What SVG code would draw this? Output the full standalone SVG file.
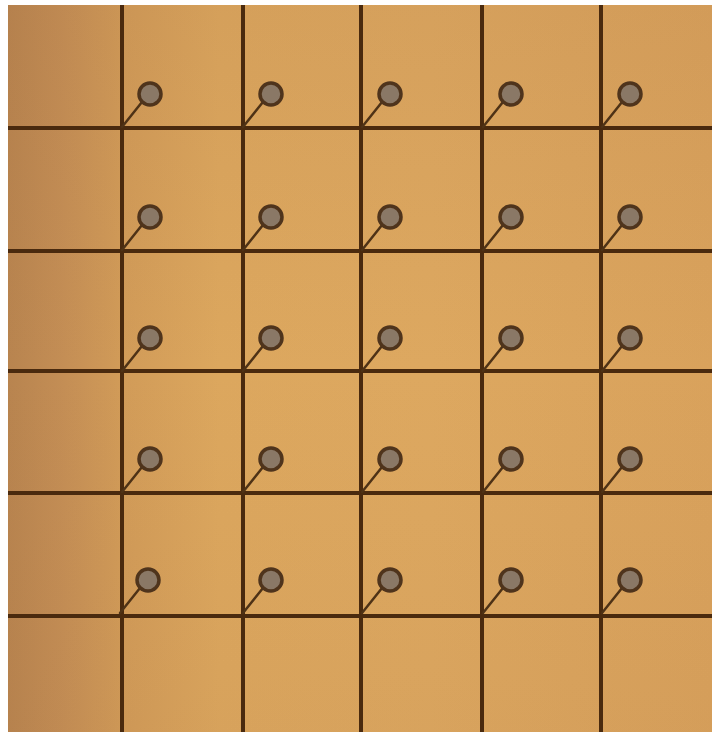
<svg xmlns="http://www.w3.org/2000/svg" xmlns:xlink="http://www.w3.org/1999/xlink" width="712" height="732" viewBox="0 0 712 732">
<style>
.grid line{stroke:#4a2a0e;stroke-width:4;stroke-linecap:butt}
.stem{stroke:#4e3216;stroke-width:2.5;stroke-linecap:round}
.head{fill:#8a7866;stroke:#4f341c;stroke-width:3.5}
</style>
<defs>
<linearGradient id="bg" x1="0" y1="0" x2="1" y2="0">
<stop offset="0" stop-color="#b8844f"/>
<stop offset="0.08" stop-color="#c48e55"/>
<stop offset="0.16" stop-color="#d19b58"/>
<stop offset="0.3" stop-color="#dca75e"/>
<stop offset="0.6" stop-color="#dda860"/>
<stop offset="1" stop-color="#d9a25c"/>
</linearGradient>
<linearGradient id="vshade" x1="0" y1="0" x2="0" y2="1">
<stop offset="0" stop-color="#a06a40" stop-opacity="0.12"/>
<stop offset="0.5" stop-color="#a06a40" stop-opacity="0"/>
<stop offset="1" stop-color="#a06a40" stop-opacity="0.08"/>
</linearGradient>
<g id="pin">
<line class="stem" x1="0" y1="-1" x2="20" y2="-26"/>
<circle class="head" cx="28" cy="-34" r="11"/>
</g>
</defs>
<rect x="0" y="0" width="712" height="732" fill="#ffffff"/>
<rect x="8" y="5" width="704" height="727" fill="url(#bg)"/>
<rect x="8" y="5" width="704" height="727" fill="url(#vshade)"/>
<g class="grid" id="connectors">
<line x1="8" y1="128" x2="712" y2="128"/>
<line x1="8" y1="251" x2="712" y2="251"/>
<line x1="8" y1="371" x2="712" y2="371"/>
<line x1="8" y1="493" x2="712" y2="493"/>
<line x1="8" y1="616" x2="712" y2="616"/>
<line x1="122" y1="5" x2="122" y2="732"/>
<line x1="243" y1="5" x2="243" y2="732"/>
<line x1="361" y1="5" x2="361" y2="732"/>
<line x1="482" y1="5" x2="482" y2="732"/>
<line x1="601" y1="5" x2="601" y2="732"/>
</g>
<g id="pins">
<g id="pin-r1c1"><use xlink:href="#pin" x="122" y="128"/></g>
<g id="pin-r1c2"><use xlink:href="#pin" x="243" y="128"/></g>
<g id="pin-r1c3"><use xlink:href="#pin" x="362" y="128"/></g>
<g id="pin-r1c4"><use xlink:href="#pin" x="483" y="128"/></g>
<g id="pin-r1c5"><use xlink:href="#pin" x="602" y="128"/></g>
<g id="pin-r2c1"><use xlink:href="#pin" x="122" y="251"/></g>
<g id="pin-r2c2"><use xlink:href="#pin" x="243" y="251"/></g>
<g id="pin-r2c3"><use xlink:href="#pin" x="362" y="251"/></g>
<g id="pin-r2c4"><use xlink:href="#pin" x="483" y="251"/></g>
<g id="pin-r2c5"><use xlink:href="#pin" x="602" y="251"/></g>
<g id="pin-r3c1"><use xlink:href="#pin" x="122" y="372"/></g>
<g id="pin-r3c2"><use xlink:href="#pin" x="243" y="372"/></g>
<g id="pin-r3c3"><use xlink:href="#pin" x="362" y="372"/></g>
<g id="pin-r3c4"><use xlink:href="#pin" x="483" y="372"/></g>
<g id="pin-r3c5"><use xlink:href="#pin" x="602" y="372"/></g>
<g id="pin-r4c1"><use xlink:href="#pin" x="122" y="493"/></g>
<g id="pin-r4c2"><use xlink:href="#pin" x="243" y="493"/></g>
<g id="pin-r4c3"><use xlink:href="#pin" x="362" y="493"/></g>
<g id="pin-r4c4"><use xlink:href="#pin" x="483" y="493"/></g>
<g id="pin-r4c5"><use xlink:href="#pin" x="602" y="493"/></g>
<g id="pin-r5c1"><use xlink:href="#pin" x="120" y="614"/></g>
<g id="pin-r5c2"><use xlink:href="#pin" x="243" y="614"/></g>
<g id="pin-r5c3"><use xlink:href="#pin" x="362" y="614"/></g>
<g id="pin-r5c4"><use xlink:href="#pin" x="483" y="614"/></g>
<g id="pin-r5c5"><use xlink:href="#pin" x="602" y="614"/></g>
</g>
</svg>
